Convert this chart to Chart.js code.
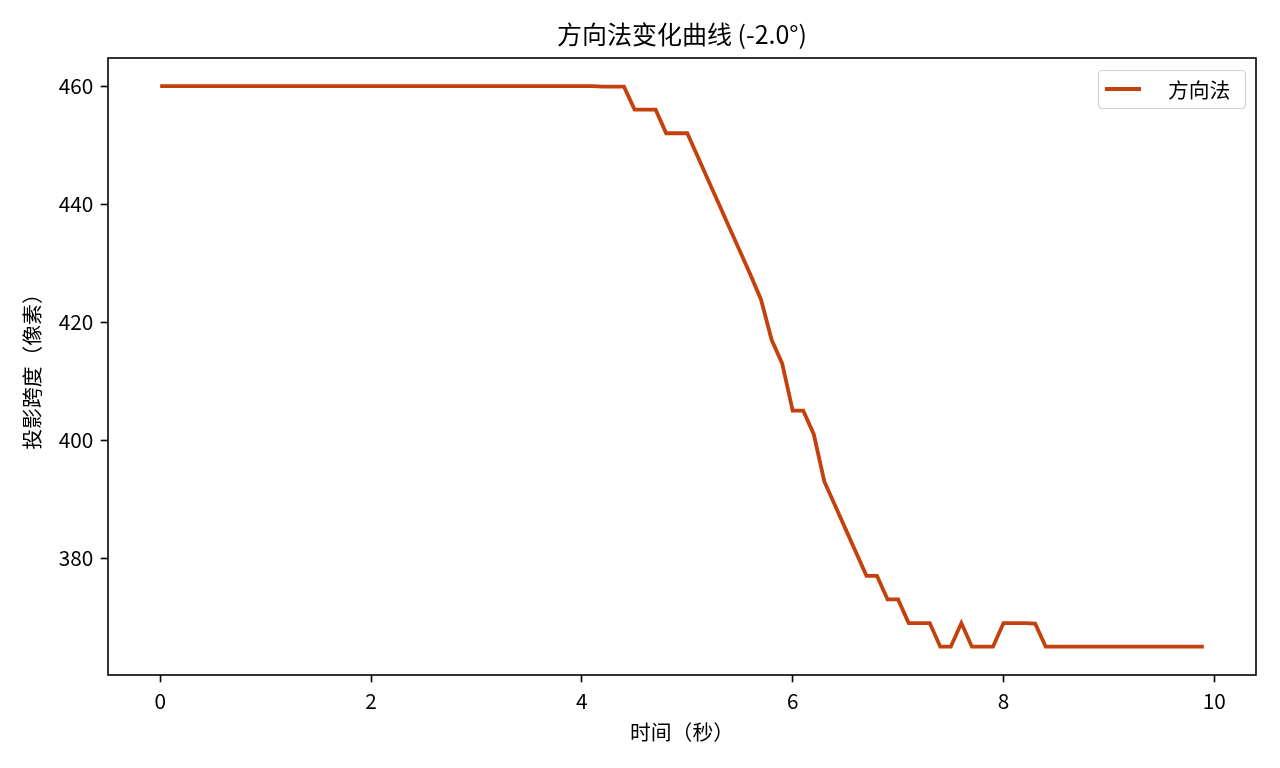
<!DOCTYPE html>
<html>
<head>
<meta charset="utf-8">
<script src="https://cdn.jsdelivr.net/npm/chart.js@4.4.1/dist/chart.umd.min.js"></script>
<style>
  body { margin: 0; background: #fff; }
  #wrap { width: 1280px; height: 768px; position: relative; }
</style>
</head>
<body>
<div id="wrap"><canvas id="curveChart"></canvas></div>
<script>
// 时间（秒）
const times = [
  0.0, 0.1, 0.2, 0.3, 0.4, 0.5, 0.6, 0.7, 0.8, 0.9,
  1.0, 1.1, 1.2, 1.3, 1.4, 1.5, 1.6, 1.7, 1.8, 1.9,
  2.0, 2.1, 2.2, 2.3, 2.4, 2.5, 2.6, 2.7, 2.8, 2.9,
  3.0, 3.1, 3.2, 3.3, 3.4, 3.5, 3.6, 3.7, 3.8, 3.9,
  4.0, 4.1, 4.2, 4.3, 4.4, 4.5, 4.6, 4.7, 4.8, 4.9,
  5.0, 5.1, 5.2, 5.3, 5.4, 5.5, 5.6, 5.7, 5.8, 5.9,
  6.0, 6.1, 6.2, 6.3, 6.4, 6.5, 6.6, 6.7, 6.8, 6.9,
  7.0, 7.1, 7.2, 7.3, 7.4, 7.5, 7.6, 7.7, 7.8, 7.9,
  8.0, 8.1, 8.2, 8.3, 8.4, 8.5, 8.6, 8.7, 8.8, 8.9,
  9.0, 9.1, 9.2, 9.3, 9.4, 9.5, 9.6, 9.7, 9.8, 9.9
];

// 投影跨度（像素）
const spans = [
  460, 460, 460, 460, 460, 460, 460, 460, 460, 460,
  460, 460, 460, 460, 460, 460, 460, 460, 460, 460,
  460, 460, 460, 460, 460, 460, 460, 460, 460, 460,
  460, 460, 460, 460, 460, 460, 460, 460, 460, 460,
  460, 460, 459.9, 459.9, 459.9, 456, 456, 456, 452, 452,
  452, 448, 444, 440, 436, 432, 428, 423.8, 417, 413,
  405, 405, 401, 393, 389, 385, 381, 377, 377, 373,
  373, 369, 369, 369, 365, 365, 369, 365, 365, 365,
  369, 369, 369, 368.9, 365, 365, 365, 365, 365, 365,
  365, 365, 365, 365, 365, 365, 365, 365, 365, 365
];

const xTicks = [0, 2, 4, 6, 8, 10];
const yTicks = [380, 400, 420, 440, 460];

const lineColor = '#c2410c';
const fontFamily = '"Noto Sans CJK SC", "Noto Sans", sans-serif';

// 画外框和图例（仿 matplotlib 样式）
const framePlugin = {
    id: 'frame',
    afterDraw(chart) {
        const { ctx, chartArea: a } = chart;
        ctx.save();
        ctx.strokeStyle = '#000';
        ctx.lineWidth = 1.6;
        ctx.strokeRect(a.left, a.top, a.right - a.left, a.bottom - a.top);

        // 图例
        const bx = a.right - 158, by = a.top + 12, bw = 147, bh = 38;
        ctx.fillStyle = 'rgba(255,255,255,0.8)';
        ctx.strokeStyle = '#d0d0d0';
        ctx.lineWidth = 1.2;
        ctx.beginPath();
        ctx.roundRect(bx + 0.5, by + 0.5, bw, bh, 4);
        ctx.fill();
        ctx.stroke();

        const ds = chart.data.datasets[0];
        ctx.strokeStyle = ds.borderColor;
        ctx.lineWidth = ds.borderWidth;
        ctx.beginPath();
        ctx.moveTo(bx + 7, by + 19);
        ctx.lineTo(bx + 43, by + 19);
        ctx.stroke();

        ctx.fillStyle = '#000';
        ctx.font = '20.8px ' + fontFamily;
        ctx.textBaseline = 'middle';
        ctx.textAlign = 'left';
        ctx.fillText(ds.label, bx + 70, by + 20);
        ctx.restore();
    }
};

const ctx = document.getElementById('curveChart').getContext('2d');
const curveChart = new Chart(ctx, {
    type: 'line',
    data: {
        datasets: [{
            label: '方向法',
            data: times.map((t, i) => ({ x: t, y: spans[i] })),
            borderColor: lineColor,
            backgroundColor: lineColor,
            borderWidth: 3.8,
            pointRadius: 0,
            tension: 0,
            fill: false
        }]
    },
    options: {
        responsive: true,
        maintainAspectRatio: false,
        animation: false,
        layout: {
            padding: { left: 0, right: 24, top: 0, bottom: 0 }
        },
        plugins: {
            legend: { display: false },
            tooltip: { enabled: false },
            title: {
                display: true,
                fullSize: false,
                text: '方向法变化曲线 (-2.0°)',
                color: '#000',
                font: { family: fontFamily, size: 25, weight: 'normal', lineHeight: 1.2 },
                padding: { top: 19, bottom: 9 }
            }
        },
        scales: {
            x: {
                type: 'linear',
                min: -0.495,
                max: 10.395,
                afterBuildTicks: axis => { axis.ticks = xTicks.map(v => ({ value: v })); },
                afterFit: axis => { axis.height = 93; },
                border: { display: false },
                grid: {
                    drawOnChartArea: false,
                    drawTicks: true,
                    tickLength: 7.3,
                    tickColor: '#000',
                    tickWidth: 1.6
                },
                ticks: {
                    color: '#000',
                    padding: 6,
                    maxRotation: 0,
                    font: { family: fontFamily, size: 20.8 }
                },
                title: {
                    display: true,
                    text: '时间（秒）',
                    color: '#000',
                    font: { family: fontFamily, size: 20.8, lineHeight: 1.2 },
                    padding: { top: 0, bottom: 23.5 }
                }
            },
            y: {
                min: 360.2,
                max: 464.75,
                afterBuildTicks: axis => { axis.ticks = yTicks.map(v => ({ value: v })); },
                afterFit: axis => { axis.width = 108; },
                border: { display: false },
                grid: {
                    drawOnChartArea: false,
                    drawTicks: true,
                    tickLength: 7.3,
                    tickColor: '#000',
                    tickWidth: 1.6
                },
                ticks: {
                    color: '#000',
                    padding: 7.3,
                    font: { family: fontFamily, size: 20.8 }
                },
                title: {
                    display: true,
                    text: '投影跨度（像素）',
                    color: '#000',
                    font: { family: fontFamily, size: 20.8, lineHeight: 1.2 },
                    padding: { top: 20, bottom: 0 }
                }
            }
        }
    },
    plugins: [framePlugin]
});
</script>
</body>
</html>
